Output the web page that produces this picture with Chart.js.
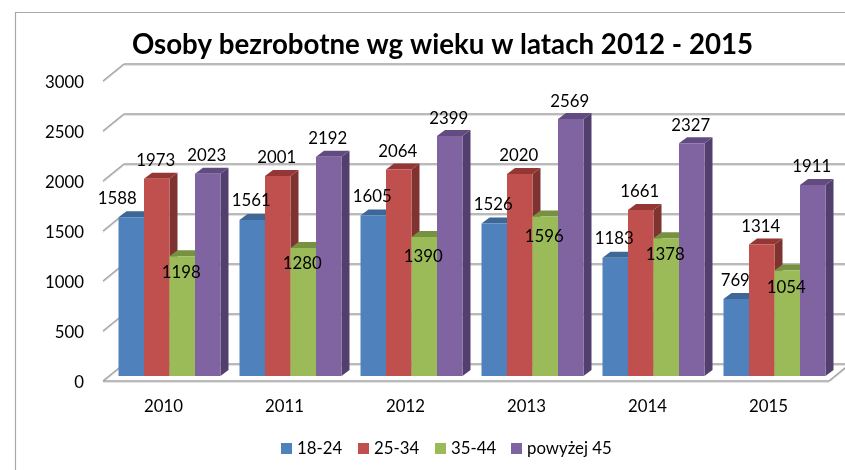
<!DOCTYPE html>
<html><head><meta charset="utf-8">
<script src="https://cdn.jsdelivr.net/npm/chart.js@4/dist/chart.umd.min.js"></script>
<style>html,body{margin:0;padding:0;background:#fff}canvas{display:block}</style>
</head><body><canvas id="c" width="845" height="470"></canvas>
<script>
const titleText = 'Osoby bezrobotne wg wieku w latach 2012 - 2015';
const years = ['2010','2011','2012','2013','2014','2015'];
const seriesNames = ['18-24','25-34','35-44','powyżej 45'];
const age18to24 = [1588,1561,1605,1526,1183,769];
const age25to34 = [1973,2001,2064,2020,1661,1314];
const age35to44 = [1198,1280,1390,1596,1378,1054];
const age45plus = [2023,2192,2399,2569,2327,1911];
const yTicks = [0,500,1000,1500,2000,2500,3000];

const FONT = 'Lato, Carlito, sans-serif';
const TEXT_SIZE = 16.8;
const frontColors = ['#4f81bd','#c0504d','#9bbb59','#8064a2'];
const topColors = ['#3c6796','#943634','#76913f','#624b80'];
const sideColors = ['#355a86','#7f3331','#688137','#533f6e'];
const GRID = '#a3a3a3', GRID_SOFT = '#e2e2e2';
// depth offsets of the fake 3D box
const barShift = {x:6, y:-5}, backShift = {x:21, y:-17}, barDepth = {x:8, y:-6};
// label placement relative to the bar top: [series default], then single nudges
const labelDy = [-19,-18,16,-18];
const labelNudge = {'0,0':[-13,0], '2,2':[0,4], '2,3':[0,4], '2,5':[0,1]};
const legendX = [281,358,435,511], legendTextGap = 16, legendY = 443, legendBox = 11;

function segment(ctx,x0,y0,x1,y1){
  ctx.strokeStyle = GRID_SOFT; ctx.lineWidth = 1;
  ctx.beginPath(); ctx.moveTo(x0,y0+1.5); ctx.lineTo(x1,y1+1.5); ctx.stroke();
  ctx.strokeStyle = GRID; ctx.lineWidth = 1.6;
  ctx.beginPath(); ctx.moveTo(x0,y0); ctx.lineTo(x1,y1); ctx.stroke();
}
const box3d = {
  id:'box3d',
  beforeDraw(chart){
    const {ctx,width,height} = chart;
    ctx.save();
    ctx.fillStyle = '#fff'; ctx.fillRect(0,0,width,height);
    ctx.strokeStyle = '#a8a8a8'; ctx.lineWidth = 1.2;
    ctx.beginPath(); ctx.moveTo(15.5,height); ctx.lineTo(15.5,12.5); ctx.lineTo(width,12.5); ctx.stroke();
    ctx.fillStyle = '#000'; ctx.font = 'bold 27.7px '+FONT; ctx.textAlign = 'center'; ctx.textBaseline = 'middle';
    ctx.fillText(titleText,442.5,45);
    const y = chart.scales.y, a = chart.chartArea;
    yTicks.forEach(v=>{
      const py = y.getPixelForValue(v);
      segment(ctx,a.left,py,a.left+backShift.x,py+backShift.y);
      segment(ctx,a.left+backShift.x,py+backShift.y,a.right+backShift.x,py+backShift.y);
    });
    const by = y.getPixelForValue(0);
    segment(ctx,a.right,by,a.right+backShift.x,by+backShift.y);
    segment(ctx,a.left,by,a.right,by);
    ctx.restore();
  },
  beforeDatasetsDraw(chart){
    const ctx = chart.ctx;
    chart.data.datasets.forEach((ds,i)=>{
      const meta = chart.getDatasetMeta(i);
      ctx.save();
      ctx.translate(barShift.x,barShift.y);
      meta.data.forEach(b=>{
        const l=b.x-b.width/2, r=b.x+b.width/2, t=b.y, base=b.base;
        ctx.fillStyle = sideColors[i];
        ctx.beginPath(); ctx.moveTo(r,t); ctx.lineTo(r+barDepth.x,t+barDepth.y);
        ctx.lineTo(r+barDepth.x,base+barDepth.y); ctx.lineTo(r,base); ctx.closePath(); ctx.fill();
        ctx.fillStyle = topColors[i];
        ctx.beginPath(); ctx.moveTo(l,t); ctx.lineTo(l+barDepth.x,t+barDepth.y);
        ctx.lineTo(r+barDepth.x,t+barDepth.y); ctx.lineTo(r,t); ctx.closePath(); ctx.fill();
      });
      meta.controller.draw();
      ctx.restore();
    });
  },
  beforeDatasetDraw(){ return false; },
  afterDatasetsDraw(chart){
    const ctx = chart.ctx;
    ctx.save();
    ctx.fillStyle = '#000'; ctx.font = TEXT_SIZE+'px '+FONT; ctx.textAlign='center'; ctx.textBaseline='middle';
    chart.data.datasets.forEach((ds,i)=>{
      chart.getDatasetMeta(i).data.forEach((b,j)=>{
        const n = labelNudge[i+','+j] || [0,0];
        ctx.fillText(String(ds.data[j]), b.x+barShift.x-1+n[0], b.y+barShift.y+labelDy[i]+n[1]);
      });
    });
    ctx.textAlign='left';
    seriesNames.forEach((name,i)=>{
      ctx.fillStyle = frontColors[i]; ctx.fillRect(legendX[i],legendY,legendBox,legendBox);
      ctx.fillStyle = '#000'; ctx.fillText(name,legendX[i]+legendTextGap,legendY+legendBox/2);
    });
    ctx.restore();
  }
};
new Chart(document.getElementById('c'),{
  type:'bar',
  data:{labels:years,datasets:[age18to24,age25to34,age35to44,age45plus].map((d,i)=>({
    label:seriesNames[i],data:d,backgroundColor:frontColors[i],borderWidth:0,
    categoryPercentage:0.843,barPercentage:1
  }))},
  options:{
    responsive:false,animation:false,
    layout:{padding:{top:81,right:16,left:0,bottom:0}},
    plugins:{legend:{display:false},title:{display:false},tooltip:{enabled:false}},
    scales:{
      x:{grid:{display:false,drawTicks:false},border:{display:false},
         ticks:{color:'#000',font:{family:FONT,size:TEXT_SIZE},padding:16,maxRotation:0},
         afterFit(s){s.height=89;}},
      y:{min:0,max:3000,grid:{display:false,drawTicks:false},border:{display:false},
         afterBuildTicks(s){s.ticks=yTicks.map(v=>({value:v}));},
         ticks:{color:'#000',font:{family:FONT,size:TEXT_SIZE},padding:19,labelOffset:2,callback:v=>String(v)},
         afterFit(s){s.width=103;}}
    }
  },
  plugins:[box3d]
});
</script></body></html>
